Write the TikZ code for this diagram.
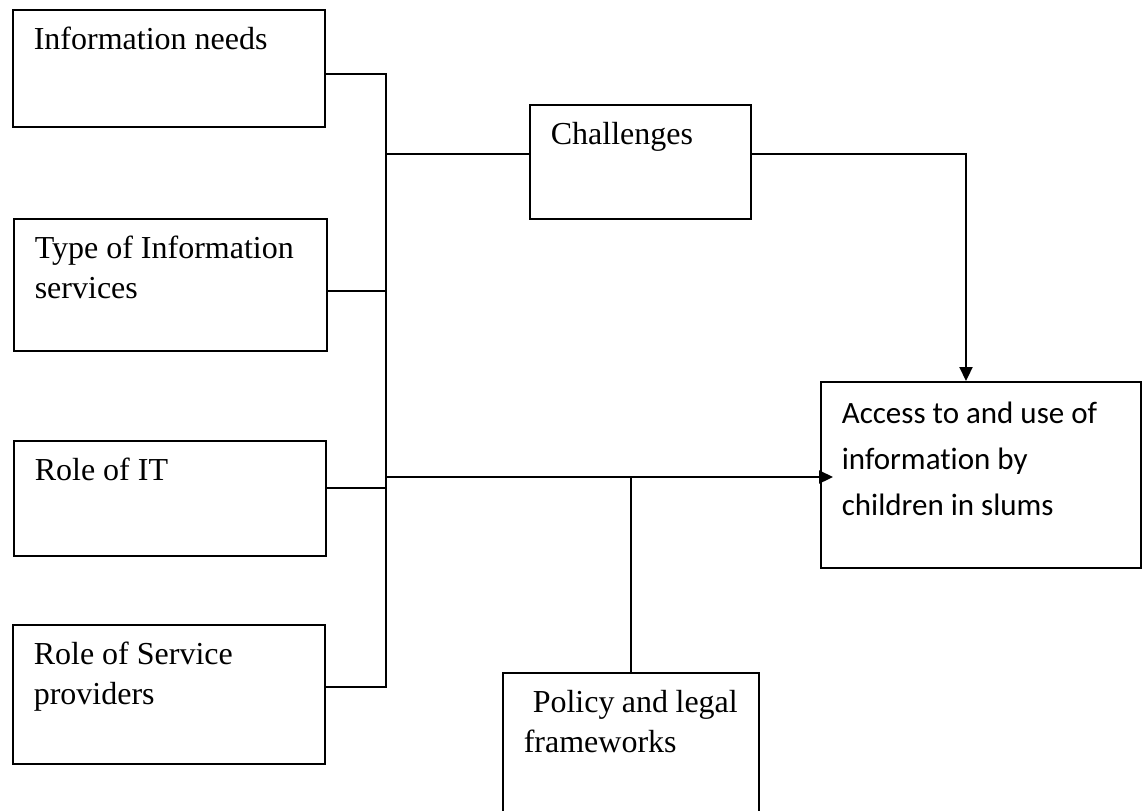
\documentclass[tikz,border=0pt]{standalone}
\usepackage{fontspec}
\setmainfont{Liberation Serif}
\newfontfamily\calibri[Ligatures=NoCommon]{Carlito}
\usepackage{tikz}
\usetikzlibrary{arrows.meta}
\newcommand{\boxtext}[3]{\begin{minipage}[t][#2][t]{#1}\raggedright\strut#3\end{minipage}}
\tikzstyle{factor} = [draw, line width=0.8pt, rectangle, anchor=north west, inner xsep=10.5pt, inner ysep=6pt, font=\fontsize{16}{20}\selectfont]
\tikzstyle{link} = [line width=0.8pt]
\tikzstyle{flow} = [line width=1.1pt, -{Triangle[length=7pt,width=6.5pt]}]

\begin{document}
\begin{tikzpicture}[x=0.5pt,y=-0.5pt]
		\useasboundingbox (0,0) rectangle (1146,810);
		\node[factor](need) at (12,9) {\boxtext{135pt}{46.5pt}{Information needs}};
		\node[factor](type) at (13,218) {\boxtext{135.5pt}{54pt}{Type of Information\\services}};
		\node[factor](it) at (13,440) {\boxtext{135pt}{45.5pt}{Role of IT}};
		\node[factor](serv) at (12,624) {\boxtext{135pt}{57.5pt}{Role of Service\\providers}};
		\node[factor](chal) at (529,104) {\boxtext{89.5pt}{45pt}{Challenges}};
		\node[factor, inner ysep=4.5pt, font=\calibri\fontsize{15.5}{23}\selectfont](access) at (820,381) {\boxtext{139pt}{84pt}{Access to and use of\\information by\\children in slums}};
		\node[factor](pol) at (502,672) {\boxtext{107pt}{60.5pt}{\hspace*{4.5pt}Policy and legal\\frameworks}};

		\coordinate (bus) at (386,0);
		\coordinate (turn) at (966,0);
		\coordinate (join) at (386,477);
		\coordinate (needout) at ([yshift=-2.75pt]need.east);
		\coordinate (typeout) at ([yshift=-3pt]type.east);
		\coordinate (itout) at ([yshift=5.25pt]it.east);
		\coordinate (servout) at ([yshift=3.75pt]serv.east);
		\coordinate (chalin) at ([yshift=4pt]chal.west);
		\coordinate (chalout) at ([yshift=4pt]chal.east);
		\coordinate (tip) at ([xshift=6.5pt]access.west);

		\draw[link] (needout) -- (needout -| bus) -- (servout -| bus) -- (servout);
		\draw[link] (typeout) -- (typeout -| bus);
		\draw[link] (itout) -- (itout -| bus);
		\draw[link] (chalin -| bus) -- (chalin);
		\draw[link] (pol.north) -- (pol.north |- join);
		\draw[flow] (join) -- (tip |- join);
		\draw[flow] (chalout) -- (chalout -| turn) -- (turn |- access.north);
	\end{tikzpicture}
\end{document}
